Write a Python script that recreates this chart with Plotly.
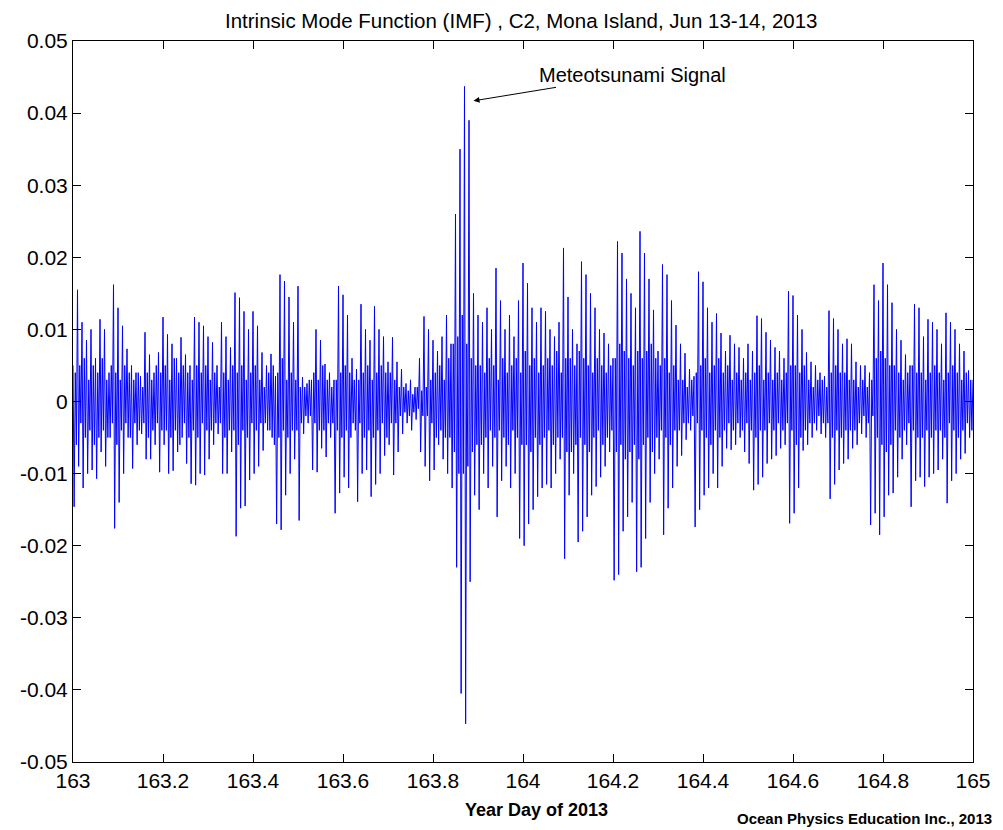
import numpy as np
import plotly.graph_objects as go

# IMF C2 crests/troughs, in units of 0.001 (alternating sign),
# evenly spread between year day 163 and 165
imf_milli = [
    5, -14.6, 15.5, -9,
    11, -12, 8.5, -10, 10, -9.5, 6,
    -10.7, 11.4, -7, 10, -9,
    4, -5,
    16.2, -17.6, 13, -14, 10.5, -10,
    7.3, -5, 5, -9.3, 4, -6, 3.5, -4.5,
    9.6, -8, 6.5, -8, 4, -6, 6.8,
    -9.8, 11.7, -6, 9.3, -10, 8, -9.6, 6, -7, 8.9, -5,
    6.5, -8.6, 5,
    -11.4, 11.7, -11.6, 11, -10, 10.5, -10.2, 9, -8,
    8.2, -6, 5, -4.5,
    11, -10, 9, -10, 7.5, -7,
    15.1, -18.7, 14.4, -14.8, 12.5, -14.5, 10,
    -10.9, 12.5, -10, 10.5, -9,
    6.8, -6.8, 5, -4, 6.6, -5, 3.5,
    -17, 17.6, -17.8, 16.7, -13, 14.5, -10, 11, -8,
    16, -16.5,
    3.4, -4.5, 2.5, -3, 3,
    -9.5, 10, -9.8, 8.5, -6.5,
    5.2, -7.7, 4, -5, 3,
    -15.5, 16, -12.7, 14.8, -10.5, 12,
    -12, 6, -3, 4.5,
    -13.9, 13.5, -10, 10, -9.5, 8.5,
    -13.2, 13.2, -11.5, 10, -10, 9, -7.5, 5.5, -6,
    8.9, -10.2, 5.5, -7, 4.5, -4.5, 2.5, -3,
    3, -4, 2, -2.5,
    6, -7, 11.8, -9, 10, -11, 8.5, -9.5, 7, -6,
    9, -8, 12, -10, 8, -12,
    26, -23, 35, -40.5, 43.7, -44.7, 39,
    -25, 15, -13, 12, -15, 11, -10, 13, -12, 10, -9, 18.5, -16, 14, -11, 10, -9, 12, -12, 9, -10, 14,
    -19, 19.2, -20, 16.4, -17, 13, -15, 11,
    -13.2, 13, -12, 12.5, -11.5, 10, -12, 9, -10, 11, -8,
    21.3,
    -21.8, 14.5, -13, 10, -10, 8,
    -19.5, 19.4, -18, 17.6, -16, 15, -13,
    13, -11.8, 10, -10.5, 9.5, -9, 8, -7, 6,
    -24.8, 22.2, -24, 20.6, -18, 17, -16, 15, -14, 13,
    -23.6, 23.6, -23, 20.6, -19, 17, -14,
    12.7, -10, 7, -8,
    19, -18.5, 17.6, -14.8, 14, -12,
    10.6, -9, 8, -7.5,
    6.7, -5.3, 4.5, -4, 3.5,
    -17.4, 18, -15, 16.6, -13, 13, -12, 11, -10,
    12.2, -12, 9.5, -9, 7, -6.5,
    9.2, -6.7, 8, -6, 7.5, -5, 6, -7, 8, -8.6, 7,
    -12.3, 11.9, -11.5, 11.5, -10.5,
    9.6, -8.6, 8.5, -8, 7.5, -7.5, 7, -6.5, 6, -6,
    15.3, -16.9, 14.7, -15.5, 12, -12, 10,
    -6.8, 6.8, -6, 5.5, -5, 5, -4, 4, -4.5, 3.5, -5,
    12.6, -13.5, 11.5, -11.5, 10, -9.5, 8,
    -8.6, 8.7, -8, 8, -6.5, 5.5, -6, 5, -4.5,
    5, -5, 4,
    -17.1, 16.2, -15.5, 14,
    -18.5, 19.2, -16, 16.2, -13,
    13.7, -12.7, 10, -10.5, 8.5, -8, 6.5, -6, 5,
    -14.6, 13.5, -11, 13, -10.5, 9,
    -11.8, 11.4, -10.5, 11, -10, 10, -9.5, 8, -8,
    12.3, -14.1, 11, -11, 10, -10, 8, -8, 7,
    -7.2, 4.3, -5, 3,
]

# small high-frequency oscillations of the dense core (units of 0.001),
# one (+, -) pair after every pair of crest/trough values above
core_milli = [
    4, -6, 5, -3, 6, -5, 3, -4, 5, -6, 4, -5, 6, -4, 3, -5, 5, -3, 4, -6,
    3, -4, 5, -3, 4, -5, 3, -3, 4, -4, 2, -3, 4, -5, 3, -4, 5, -3, 4, -4,
    5, -4, 3, -5, 6, -4, 4, -6, 5, -3, 4, -5, 3, -4, 5, -5, 4, -3, 5, -4,
    3, -4, 4, -3, 2, -3, 4, -5, 3, -4, 5, -4, 4, -6, 5, -4, 3, -5, 4, -3,
    5, -4, 3, -3, 2, -3, 4, -4, 5, -6, 4, -5, 6, -4, 3, -5, 4, -4, 3, -4,
    2, -3, 2, -2, 3, -2, 4, -3, 3, -4, 5, -4, 3, -3, 2, -3, 3, -4, 4, -5,
    5, -4, 4, -5, 3, -4, 3, -3, 4, -5, 5, -4, 3, -5, 4, -4, 5, -3, 4, -5,
    4, -3, 3, -3, 2, -2, 2, -1.5, 1.5, -2, 1, -1.5, 2, -1, 1.5, -2, 2, -2, 3, -3,
    4, -5, 5, -4, 3, -5, 6, -5, 8, -7, 9, -10, 12, -10, 8, -9, 6, -7, 5, -6,
    5, -6, 4, -5, 6, -4, 5, -5, 3, -4, 6, -5, 4, -6, 5, -4, 6, -5, 4, -6,
    7, -6, 5, -7, 6, -5, 4, -6, 5, -5, 6, -4, 5, -6, 7, -5, 4, -5, 6, -7,
    6, -7, 5, -6, 7, -5, 6, -6, 5, -7, 4, -5, 6, -4, 5, -6, 4, -5, 5, -4,
    6, -7, 8, -6, 7, -8, 6, -7, 5, -6, 7, -8, 6, -6, 7, -5, 8, -7, 6, -5,
    5, -4, 6, -5, 4, -6, 5, -4, 3, -4, 3, -3, 2, -3, 3, -2, 4, -3, 5, -4,
    6, -5, 4, -6, 5, -4, 6, -5, 4, -4, 5, -3, 3, -4, 4, -3, 3, -4, 4, -3,
    3, -4, 4, -5, 5, -4, 3, -4, 4, -3, 3, -4, 4, -3, 3, -4, 4, -3, 5, -4,
    5, -6, 4, -5, 5, -4, 3, -3, 2, -3, 3, -2, 3, -3, 2, -3, 4, -5, 5, -4,
    4, -5, 4, -4, 3, -4, 3, -4, 2, -3, 3, -2, 2, -3, 3, -2, 6, -5, 7, -6,
    6, -7, 5, -6, 5, -4, 4, -5, 3, -4, 4, -3, 5, -4, 4, -5, 4, -5, 3, -4,
    4, -5, 5, -4, 4, -4, 3, -5, 4, -3, 5, -4, 4, -5, 3, -4, 4, -3, 3, -4,
]
day_start, day_end = 163.0, 165.0

x_ticks = [163, 163.2, 163.4, 163.6, 163.8, 164, 164.2, 164.4, 164.6, 164.8, 165]
x_labels = ["163", "163.2", "163.4", "163.6", "163.8", "164", "164.2", "164.4", "164.6", "164.8", "165"]
y_ticks = [-0.05, -0.04, -0.03, -0.02, -0.01, 0, 0.01, 0.02, 0.03, 0.04, 0.05]
y_labels = ["-0.05", "-0.04", "-0.03", "-0.02", "-0.01", "0", "0.01", "0.02", "0.03", "0.04", "0.05"]

# merge the two lists into one series
series = []
for k, v in enumerate(imf_milli):
    series.append(v)
    if k % 2 == 1 and k < len(core_milli):
        series.append(core_milli[k - 1])
        series.append(core_milli[k])
values = np.array(series) / 1000.0
days = np.linspace(day_start, day_end, len(values))

FONT = "Liberation Sans, Arial, sans-serif"

fig = go.Figure()
fig.add_trace(go.Scatter(x=days, y=values, mode="lines",
                         line=dict(color="#0000FF", width=1), hoverinfo="skip",
                         showlegend=False))

axis_common = dict(showline=True, linecolor="black", linewidth=1, mirror="ticks",
                   ticks="inside", ticklen=8, tickcolor="black", tickwidth=1,
                   showgrid=False, zeroline=False,
                   tickfont=dict(family=FONT, size=21, color="black"))

fig.update_xaxes(range=[163, 165], tickvals=x_ticks, ticktext=x_labels, **axis_common)
fig.update_yaxes(range=[-0.05, 0.05], tickvals=y_ticks, ticktext=y_labels, **axis_common)

fig.add_annotation(x=163.89, y=0.0417, xref="x", yref="y",
                   text="Meteotsunami Signal", showarrow=True,
                   ax=159, ay=-26, arrowhead=2, arrowsize=1.2, arrowwidth=1,
                   arrowcolor="black", font=dict(family=FONT, size=20, color="black"))

fig.add_annotation(x=0.498, y=1.029, xref="paper", yref="paper", showarrow=False,
                   text="Intrinsic Mode Function (IMF) , C2, Mona Island, Jun 13-14, 2013",
                   xanchor="center", yanchor="middle",
                   font=dict(family=FONT, size=20.5, color="black"))
fig.add_annotation(x=0.515, y=-0.0666, xref="paper", yref="paper", showarrow=False,
                   text="<b>Year Day of 2013</b>", xanchor="center", yanchor="middle",
                   font=dict(family=FONT, size=18, color="black"))
fig.add_annotation(x=1.023, y=-0.0777, xref="paper", yref="paper", showarrow=False,
                   text="<b>Ocean Physics Education Inc., 2013</b>", xanchor="right",
                   yanchor="middle", font=dict(family=FONT, size=15, color="black"))

fig.update_layout(width=995, height=822, margin=dict(l=59, r=24, t=33, b=68),
                  paper_bgcolor="white", plot_bgcolor="white")

fig.write_html("out.html")
